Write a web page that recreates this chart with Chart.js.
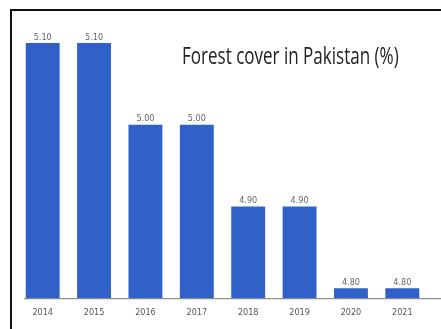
<!DOCTYPE html>
<html>
<head>
<meta charset="utf-8">
<script src="https://cdn.jsdelivr.net/npm/chart.js@4"></script>
<style>
  html, body { margin: 0; padding: 0; background: #fff; overflow: hidden; }
  #wrap { position: relative; width: 441px; height: 329px; overflow: hidden; }
  #frameTop { position: absolute; left: 10px; top: 9px; width: 431px; height: 2px; background: #111; }
  #frameLeft { position: absolute; left: 10px; top: 9px; width: 2px; height: 320px; background: #111; }
  #title { position: absolute; left: 182px; top: 39px; white-space: nowrap;
           font-family: "Open Sans", sans-serif; font-size: 23px; color: #222;
           transform: scaleX(0.74); transform-origin: left top; }
  canvas { position: absolute; left: 0; top: 0; }
</style>
</head>
<body>
<div id="wrap">
  <canvas id="chart" width="441" height="329"></canvas>
  <div id="frameTop"></div>
  <div id="frameLeft"></div>
  <div id="title">Forest cover in Pakistan (%)</div>
</div>
<script>
// Data
const years = ['2014', '2015', '2016', '2017', '2018', '2019', '2020', '2021'];
const forestCover = [5.10, 5.10, 5.00, 5.00, 4.90, 4.90, 4.80, 4.80];

// value labels above each bar
const valueLabels = {
    id: 'valueLabels',
    afterDatasetsDraw(chart) {
        const ctx = chart.ctx;
        const meta = chart.getDatasetMeta(0);
        ctx.save();
        ctx.font = '9px "DejaVu Sans Condensed", sans-serif';
        ctx.fillStyle = '#666';
        ctx.textAlign = 'center';
        ctx.textBaseline = 'bottom';
        meta.data.forEach((bar, i) => {
            ctx.fillText(forestCover[i].toFixed(2), bar.x, bar.y - 1);
        });
        ctx.restore();
    }
};

// baseline that runs past the plot to the right edge
const baseLine = {
    id: 'baseLine',
    afterDatasetsDraw(chart) {
        const ctx = chart.ctx;
        const y = chart.scales.y.getPixelForValue(chart.scales.y.min);
        ctx.save();
        ctx.strokeStyle = '#777';
        ctx.lineWidth = 1;
        ctx.beginPath();
        ctx.moveTo(chart.chartArea.left + 7, y + 0.5);
        ctx.lineTo(chart.width, y + 0.5);
        ctx.stroke();
        ctx.restore();
    }
};

const ctx = document.getElementById('chart').getContext('2d');
const forestChart = new Chart(ctx, {
    type: 'bar',
    data: {
        labels: years,
        datasets: [{
            data: forestCover,
            backgroundColor: '#2f61c9',
            borderWidth: 0,
            categoryPercentage: 1,
            barPercentage: 0.66
        }]
    },
    options: {
        responsive: false,
        animation: false,
        layout: { padding: { left: 17, right: 13, top: 20, bottom: 2 } },
        plugins: { legend: { display: false }, tooltip: { enabled: false } },
        scales: {
            x: {
                grid: { display: false, drawTicks: false },
                border: { display: false },
                ticks: {
                    padding: 9,
                    color: '#555',
                    font: { family: '"DejaVu Sans Condensed", sans-serif', size: 9 }
                }
            },
            y: {
                display: false,
                min: 4.7877,
                max: 5.128
            }
        }
    },
    plugins: [valueLabels, baseLine]
});
</script>
</body>
</html>
